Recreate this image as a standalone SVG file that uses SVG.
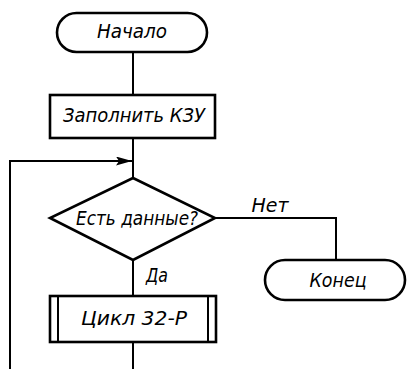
<svg xmlns="http://www.w3.org/2000/svg" width="408" height="369" viewBox="0 0 408 369">
<style>
.s{fill:#fff;stroke:#000;stroke-width:2.6}
.c{fill:none;stroke:#000;stroke-width:2}
text{font-family:"DejaVu Sans","Liberation Sans",sans-serif;font-style:italic;font-size:19px;fill:#000;text-anchor:middle}
</style>
<defs>
<marker id="ah" markerWidth="16" markerHeight="9" refX="16" refY="4.5" orient="auto" markerUnits="userSpaceOnUse">
<path d="M0,0 L16,4.5 L0,9 L3,4.5 Z" fill="#000"/>
</marker>
</defs>
<rect width="408" height="369" fill="#fff"/>
<g id="connectors">
<path class="c" d="M133,52 V95"/>
<path class="c" d="M133,138 V178"/>
<path class="c" d="M10,369 V161 H132" marker-end="url(#ah)"/>
<path class="c" d="M133,261 V296"/>
<path class="c" d="M215,218 H336 V260"/>
<path class="c" d="M133,342 V369"/>
<text x="270" y="212" textLength="37" lengthAdjust="spacingAndGlyphs">Нет</text>
<text x="157" y="282" textLength="22" lengthAdjust="spacingAndGlyphs">Да</text>
</g>
<g id="start">
<rect class="s" x="57" y="13" width="150" height="39" rx="19.5"/>
<text x="132" y="38" textLength="70" lengthAdjust="spacingAndGlyphs">Начало</text>
</g>
<g id="fill">
<rect class="s" x="50" y="95" width="165" height="43"/>
<text x="134" y="122" textLength="142" lengthAdjust="spacingAndGlyphs">Заполнить КЗУ</text>
</g>
<g id="decision">
<path class="s" d="M133,178 L215,218 L133,260 L50,218 Z"/>
<text x="137" y="225" textLength="122" lengthAdjust="spacingAndGlyphs">Есть данные?</text>
</g>
<g id="end">
<rect class="s" x="265" y="260" width="140" height="40" rx="20"/>
<text x="338" y="287" textLength="57" lengthAdjust="spacingAndGlyphs">Конец</text>
</g>
<g id="loop">
<rect class="s" x="50" y="296" width="166" height="46"/>
<path class="c" d="M58,296 V342 M208,296 V342"/>
<text x="134" y="325" textLength="106" lengthAdjust="spacingAndGlyphs">Цикл 32-Р</text>
</g>
</svg>
